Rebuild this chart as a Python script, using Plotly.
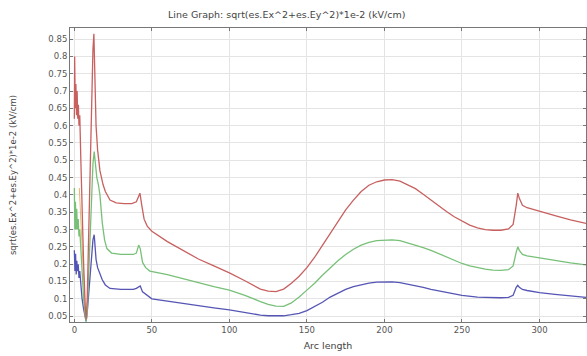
import plotly.graph_objects as go

# ---- data ----
red_x = [0, 0.2, 0.6, 1.0, 1.4, 1.8, 2.2, 2.6, 3.0, 3.5, 4.2, 5, 6, 7, 7.6, 8.3, 9, 10, 11, 12, 12.6,
         13.3, 14, 15, 16.5, 18.5, 20, 23, 27, 32, 37, 40, 41.5, 42.3, 43.5, 45, 47,
         50, 60, 70, 80, 90, 100, 110, 115, 120, 125, 130, 135, 140, 145, 150, 155, 160, 165, 170,
         175, 180, 185, 190, 195, 200, 205, 210, 215, 220, 225, 230, 235, 240, 245, 250, 255, 260,
         265, 270, 275, 280, 283, 285, 286, 287, 289, 292, 300, 310, 320, 330]
red_y = [0.62, 0.80, 0.65, 0.72, 0.63, 0.70, 0.62, 0.66, 0.60, 0.63, 0.50, 0.35, 0.20, 0.08, 0.04, 0.10, 0.25, 0.45, 0.65, 0.82, 0.865,
         0.70, 0.60, 0.53, 0.47, 0.43, 0.41, 0.385, 0.377, 0.375, 0.375, 0.38, 0.395, 0.405, 0.37, 0.33, 0.31,
         0.295, 0.265, 0.24, 0.215, 0.195, 0.175, 0.152, 0.14, 0.128, 0.122, 0.121, 0.128, 0.145, 0.165, 0.19, 0.22, 0.255, 0.29, 0.325,
         0.357, 0.385, 0.41, 0.428, 0.438, 0.443, 0.444, 0.44, 0.43, 0.418, 0.402, 0.385, 0.368, 0.352, 0.337, 0.324, 0.313, 0.305,
         0.300, 0.298, 0.298, 0.302, 0.315, 0.37, 0.405, 0.39, 0.37, 0.363, 0.352, 0.34, 0.328, 0.318]

green_x = [0, 0.3, 0.7, 1.1, 1.5, 2.0, 2.5, 3.0, 3.5, 4.2, 5, 6, 7, 7.6, 8.3, 9, 10, 11, 12, 12.8,
           13.5, 14.5, 15.5, 16.5, 18, 19.5, 21, 24, 30, 38, 40, 41.5, 42.5, 44, 46,
           48.7, 60, 70, 80, 90, 100, 110, 120, 125, 130, 135, 140, 145, 150, 155, 160, 165, 170,
           175, 180, 185, 190, 195, 200, 205, 210, 215, 220, 225, 230, 235, 240, 245, 250, 255, 260,
           265, 270, 275, 280, 283, 285, 286, 287, 289, 292, 300, 310, 320, 330]
green_y = [0.42, 0.30, 0.38, 0.30, 0.36, 0.30, 0.33, 0.28, 0.30, 0.24, 0.17, 0.10, 0.05, 0.035, 0.06, 0.14, 0.27, 0.40, 0.49, 0.525,
           0.49, 0.45, 0.43, 0.40, 0.32, 0.27, 0.245, 0.232, 0.228, 0.228, 0.232, 0.255, 0.245, 0.205, 0.19,
           0.18, 0.17, 0.158, 0.148, 0.135, 0.125, 0.11, 0.092, 0.084, 0.079, 0.078, 0.088, 0.105, 0.125, 0.145, 0.168, 0.19, 0.21,
           0.228, 0.243, 0.255, 0.263, 0.268, 0.27, 0.27, 0.268, 0.262, 0.255, 0.248, 0.24, 0.23, 0.22, 0.21, 0.202, 0.195, 0.19,
           0.186, 0.183, 0.182, 0.184, 0.195, 0.235, 0.25, 0.24, 0.228, 0.224, 0.218, 0.21, 0.204, 0.198]

blue_x = [0, 0.4, 0.8, 1.2, 1.6, 2.0, 2.5, 3.0, 3.5, 4.2, 5, 6, 7, 7.6, 8.3, 9, 10, 11, 12, 12.8,
          13.5, 14, 15, 16.5, 18, 20, 23, 30, 38, 40, 41.5, 42.5, 44, 47.5,
          50, 60, 70, 80, 90, 100, 110, 115, 120, 125, 130, 135, 140, 145, 150, 155, 160, 165, 170,
          175, 180, 185, 190, 195, 200, 205, 210, 215, 220, 225, 230, 235, 240, 245, 250, 255, 260,
          265, 270, 275, 280, 283, 285, 286, 287, 289, 292, 300, 310, 320, 330]
blue_y = [0.24, 0.18, 0.23, 0.17, 0.21, 0.18, 0.20, 0.16, 0.18, 0.14, 0.10, 0.07, 0.045, 0.035, 0.06, 0.10, 0.16, 0.22, 0.27, 0.285,
          0.25, 0.214, 0.19, 0.17, 0.155, 0.14, 0.13, 0.127, 0.127, 0.13, 0.135, 0.137, 0.12, 0.108,
          0.10, 0.093, 0.086, 0.08, 0.074, 0.068, 0.06, 0.056, 0.053, 0.051, 0.05, 0.051, 0.054, 0.058, 0.066, 0.077, 0.09, 0.105, 0.117,
          0.127, 0.135, 0.141, 0.145, 0.148, 0.149, 0.149, 0.147, 0.143, 0.138, 0.133, 0.127, 0.122, 0.118, 0.114, 0.11, 0.107, 0.105,
          0.104, 0.103, 0.103, 0.104, 0.11, 0.133, 0.139, 0.133, 0.127, 0.124, 0.118, 0.113, 0.108, 0.104]

orange_x = [3.2, 4.5, 6.0, 7.2, 7.8]
orange_y = [0.42, 0.30, 0.15, 0.05, 0.04]

y_ticks = [0.05, 0.1, 0.15, 0.2, 0.25, 0.3, 0.35, 0.4, 0.45, 0.5, 0.55, 0.6, 0.65, 0.7, 0.75, 0.8, 0.85]
y_tick_text = ["0.05", "0.1", "0.15", "0.2", "0.25", "0.3", "0.35", "0.4", "0.45", "0.5",
               "0.55", "0.6", "0.65", "0.7", "0.75", "0.8", "0.85"]
x_ticks = [0, 50, 100, 150, 200, 250, 300]

fig = go.Figure()
fig.add_trace(go.Scatter(x=orange_x, y=orange_y, mode="lines",
                         line=dict(color="#e2b870", width=1), showlegend=False))
for xs, ys, col in [(blue_x, blue_y, "#5555b5"), (green_x, green_y, "#78c078"), (red_x, red_y, "#c86060")]:
    fig.add_trace(go.Scatter(x=xs, y=ys, mode="lines", line=dict(color=col, width=1.3), showlegend=False))

axis_common = dict(showline=True, linecolor="#777777", linewidth=1, mirror="allticks",
                   ticks="inside", ticklen=3, tickcolor="#777777",
                   showgrid=True, gridcolor="#e4e4e4", gridwidth=1, zeroline=False,
                   tickfont=dict(family="DejaVu Sans", size=8.5, color="#555555"))

fig.update_layout(
    width=587, height=356,
    margin=dict(l=70, r=1, t=28, b=34),
    paper_bgcolor="white", plot_bgcolor="white",
    title=dict(text="Line Graph: sqrt(es.Ex^2+es.Ey^2)*1e-2 (kV/cm)",
               xref="paper", x=0.42, xanchor="center",
               yref="container", y=0.958, yanchor="middle",
               font=dict(family="DejaVu Sans", size=9.5, color="#444444")),
    xaxis=dict(range=[-2.8, 330], tickvals=x_ticks,
               title=dict(text="Arc length", standoff=8,
                          font=dict(family="DejaVu Sans", size=9.5, color="#444444")),
               **axis_common),
    yaxis=dict(range=[0.033, 0.882], tickvals=y_ticks, ticktext=y_tick_text,
               title=dict(text="sqrt(es.Ex^2+es.Ey^2)*1e-2 (kV/cm)", standoff=30,
                          font=dict(family="DejaVu Sans", size=8.5, color="#444444")),
               **axis_common),
)

fig.write_html("out.html")
